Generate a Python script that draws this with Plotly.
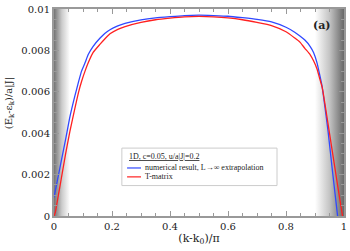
import plotly.graph_objects as go

# --- data ---
x_num = [0, 0.02, 0.04, 0.055, 0.072, 0.085, 0.095, 0.107, 0.118, 0.135, 0.159, 0.175,
         0.193, 0.22, 0.245, 0.3, 0.35, 0.4, 0.45, 0.5, 0.55, 0.6, 0.65, 0.7, 0.75, 0.8,
         0.83, 0.848, 0.865, 0.883, 0.895, 0.907, 0.915, 0.924, 0.934, 0.945, 0.96, 0.978]
y_num = [0.0009, 0.0023, 0.0037, 0.0048, 0.0058, 0.0065, 0.0070, 0.0074, 0.0078, 0.0082,
         0.0086, 0.00882, 0.0090, 0.00918, 0.0093, 0.00947, 0.00957, 0.00963, 0.00968,
         0.0097, 0.00968, 0.00965, 0.00958, 0.0095, 0.00938, 0.00912, 0.00888, 0.0087,
         0.0085, 0.0082, 0.0079, 0.0074, 0.0069, 0.0063, 0.0053, 0.0041, 0.0022, 0.0]

x_tm = [0, 0.005, 0.01, 0.02, 0.03, 0.04, 0.055, 0.072, 0.085, 0.095, 0.107, 0.118, 0.135,
        0.159, 0.175, 0.193, 0.22, 0.245, 0.3, 0.35, 0.4, 0.45, 0.5, 0.55, 0.6, 0.65, 0.7,
        0.75, 0.8, 0.83, 0.848, 0.865, 0.883, 0.895, 0.907, 0.915, 0.925, 0.94, 0.96,
        0.98, 0.995]
y_tm = [0, 0.0002, 0.0006, 0.0014, 0.0022, 0.0030, 0.0041, 0.0052, 0.0060, 0.0065, 0.0070,
        0.0074, 0.0079, 0.0083, 0.00855, 0.0088, 0.00902, 0.00915, 0.00935, 0.00948,
        0.00956, 0.00962, 0.00964, 0.00962, 0.00957, 0.00948, 0.00935, 0.0092, 0.0089,
        0.0086, 0.0084, 0.0081, 0.0078, 0.0075, 0.0071, 0.0067, 0.0062, 0.0049, 0.0031,
        0.0013, 0.0]

x_ticks = [0, 0.2, 0.4, 0.6, 0.8, 1]
x_ticktext = ["0", "0.2", "0.4", "0.6", "0.8", "1"]
y_ticks = [0, 0.002, 0.004, 0.006, 0.008, 0.01]
y_ticktext = ["0", "0.002", "0.004", "0.006", "0.008", "0.01"]

name_num = "numerical result, L→∞ extrapolation"
name_tm = "T-matrix"
legend_title = "1D, c=0.05, u/a|J|=0.2"
x_title = "(k-k<sub>0</sub>)/π"
y_title = "(E<sub>k</sub>-ε<sub>k</sub>)/a|J|"

# shaded band extents (x ranges)
left_band = [0, 0.055]
right_band = [0.9, 1.0]

FONT = "DejaVu Serif"
LFONT = "Liberation Serif"
AX = "#999999"
BLUE = "#3048ff"
RED = "#ff2020"

fig = go.Figure()

# gradient bands
fig.add_trace(go.Scatter(
    x=[left_band[0], left_band[1], left_band[1], left_band[0], left_band[0]],
    y=[0, 0, 0.01, 0.01, 0], mode="none", fill="toself", showlegend=False,
    hoverinfo="skip",
    fillgradient=dict(type="horizontal",
                      colorscale=[[0, "#747474"], [0.5, "#cccccc"], [1, "#ffffff"]])))
fig.add_trace(go.Scatter(
    x=[right_band[0], right_band[1], right_band[1], right_band[0], right_band[0]],
    y=[0, 0, 0.01, 0.01, 0], mode="none", fill="toself", showlegend=False,
    hoverinfo="skip",
    fillgradient=dict(type="horizontal",
                      colorscale=[[0, "#ffffff"], [0.5, "#c4c4c4"], [1, "#686868"]])))

fig.add_trace(go.Scatter(x=x_num, y=y_num, mode="lines",
                         line=dict(color=BLUE, width=1.3, shape="spline", smoothing=0.5),
                         name=name_num, showlegend=False))
fig.add_trace(go.Scatter(x=x_tm, y=y_tm, mode="lines",
                         line=dict(color=RED, width=1.3, shape="spline", smoothing=0.5),
                         name=name_tm, showlegend=False))

axis_common = dict(showline=True, linecolor=AX, linewidth=2, mirror="ticks",
                   ticks="inside", tickcolor=AX, ticklen=5, tickwidth=1,
                   showgrid=False, zeroline=False, automargin=False,
                   tickfont=dict(family=FONT, size=10, color="#222"))

fig.update_xaxes(range=[0, 1], tickvals=x_ticks, ticktext=x_ticktext,
                 minor=dict(ticks="inside", dtick=0.05, ticklen=3, tickcolor=AX),
                 title=dict(text=x_title, font=dict(family=FONT, size=11, color="#222"), standoff=3),
                 **axis_common)
fig.update_yaxes(range=[0, 0.01], tickvals=y_ticks, ticktext=y_ticktext,
                 minor=dict(ticks="inside", dtick=0.0005, ticklen=3, tickcolor=AX),
                 **axis_common)

# y-axis title placed as a rotated annotation (slightly above plot centre, as in the reference)
fig.add_annotation(xref="paper", yref="paper", x=-0.155, y=0.545, xanchor="center", yanchor="middle",
                   text=y_title, textangle=-90, showarrow=False,
                   font=dict(family=FONT, size=10, color="#222"))

fig.add_annotation(x=0.925, y=0.0092, xref="x", yref="y", text="<b>(a)</b>", showarrow=False,
                   font=dict(family=FONT, size=11, color="#222"))

# hand-placed legend box (paper coordinates)
lx0, lx1, ly0, ly1 = 0.234, 0.769, 0.147, 0.328
fig.add_shape(type="rect", xref="paper", yref="paper", x0=lx0, x1=lx1, y0=ly0, y1=ly1,
              fillcolor="white", line=dict(color="#cccccc", width=1))
fig.add_annotation(xref="paper", yref="paper", x=0.250, y=0.286, xanchor="left", yanchor="middle",
                   text=legend_title, showarrow=False,
                   font=dict(family=LFONT, size=8, color="#222", lineposition="under"))
for yy, col, txt in [(0.232, BLUE, name_num), (0.189, RED, name_tm)]:
    fig.add_shape(type="line", xref="paper", yref="paper", x0=0.252, x1=0.300, y0=yy, y1=yy,
                  line=dict(color=col, width=1.2))
    fig.add_annotation(xref="paper", yref="paper", x=0.308, y=yy, xanchor="left", yanchor="middle",
                       text=txt, showarrow=False, font=dict(family=LFONT, size=8, color="#222"))

fig.update_layout(
    width=350, height=251,
    margin=dict(l=54, r=6, t=9, b=35),
    plot_bgcolor="white", paper_bgcolor="white",
    showlegend=False,
)

fig.write_html("out.html", config={"displayModeBar": False},
               post_script="document.body.style.margin='0';")
